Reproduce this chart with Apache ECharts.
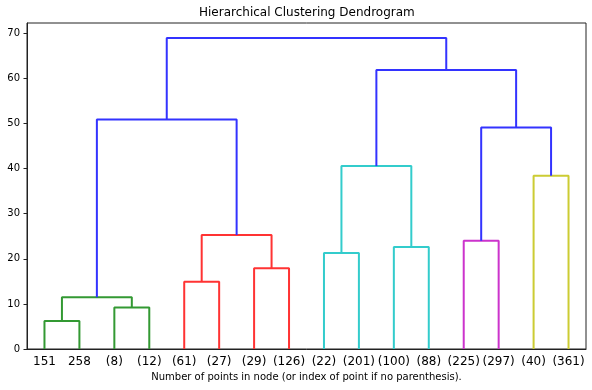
<!DOCTYPE html>
<html>
<head>
<meta charset="utf-8">
<script src="https://cdn.jsdelivr.net/npm/echarts@6/dist/echarts.min.js"></script>
<style>html,body{margin:0;padding:0;background:#fff}#c{width:592px;height:390px}</style>
</head>
<body>
<div id="c"></div>
<script>
// Leaf labels in dendrogram order
const leafLabels = ['151','258','(8)','(12)','(61)','(27)','(29)','(126)','(22)','(201)','(100)','(88)','(225)','(297)','(40)','(361)'];
// Merges: node ids 0..15 are leaves, merge k creates node 16+k
const mergeLeft  = [0, 2, 16, 4, 6, 19, 8, 10, 22, 12, 14, 18, 25, 24, 27];
const mergeRight = [1, 3, 17, 5, 7, 20, 9, 11, 23, 13, 15, 21, 26, 28, 29];
const mergeHeight = [6.2, 9.2, 11.5, 14.9, 17.9, 25.3, 21.3, 22.6, 40.6, 24.0, 38.4, 50.9, 49.1, 61.9, 69.0];
// cluster id of each merge (-1 = above colour threshold)
const mergeCluster = [0, 0, 0, 1, 1, 1, 2, 2, 2, 3, 4, -1, -1, -1, -1];
const yTicks = [0, 10, 20, 30, 40, 50, 60, 70];

const clusterColors = ['#339933', '#ff3333', '#33cccc', '#cc33cc', '#cccc33'];
const aboveColor = '#3333ff';

const nLeaves = leafLabels.length;
const nodeX = [], nodeH = [];
for (let i = 0; i < nLeaves; i++) { nodeX.push(i); nodeH.push(0); }
const series = [];
for (let k = 0; k < mergeLeft.length; k++) {
  const l = mergeLeft[k], r = mergeRight[k], h = mergeHeight[k];
  const xl = nodeX[l], xr = nodeX[r];
  nodeX.push((xl + xr) / 2); nodeH.push(h);
  const c = mergeCluster[k] < 0 ? aboveColor : clusterColors[mergeCluster[k]];
  series.push({
    type: 'line', xAxisIndex: 1, yAxisIndex: 0,
    data: [[xl, nodeH[l]], [xl, h], [xr, h], [xr, nodeH[r]]],
    showSymbol: false, symbol: 'none', silent: true,
    lineStyle: { color: c, width: 2 },
    z: mergeCluster[k] < 0 ? 3 : 2
  });
}

const chart = echarts.init(document.getElementById('c'), null, { renderer: 'canvas' });
chart.setOption({
  animation: false,
  backgroundColor: '#fff',
  title: {
    text: 'Hierarchical Clustering Dendrogram',
    left: 199, top: 7,
    padding: 0,
    textStyle: { fontFamily: 'DejaVu Sans', fontSize: 12, fontWeight: 'normal', color: '#000' }
  },
  grid: { left: 27, right: 6, top: 23, bottom: 41, show: true, borderColor: '#222', borderWidth: 1, backgroundColor: 'transparent' },
  xAxis: [
    {
      type: 'category', data: leafLabels, boundaryGap: true, position: 'bottom',
      axisLine: { show: true, lineStyle: { color: '#222', width: 1 } },
      axisTick: { show: false },
      axisLabel: { interval: 0, margin: 7, fontFamily: 'DejaVu Sans', fontSize: 12, color: '#000' },
      splitLine: { show: false },
      name: 'Number of points in node (or index of point if no parenthesis).',
      nameLocation: 'middle', nameGap: 23,
      nameTextStyle: { fontFamily: 'DejaVu Sans', fontSize: 10, color: '#000' }
    },
    {
      type: 'value', min: -0.5, max: nLeaves - 0.5, show: false, position: 'bottom'
    }
  ],
  yAxis: {
    type: 'value', min: 0, max: 72.3,
    axisLine: { show: true, onZero: false, lineStyle: { color: '#222', width: 1 } },
    axisTick: { show: true, length: 3.5, inside: false, customValues: yTicks, lineStyle: { color: '#222' } },
    axisLabel: { customValues: yTicks, margin: 7, fontFamily: 'DejaVu Sans', fontSize: 10, color: '#000' },
    splitLine: { show: false }
  },
  series: series
});
</script>
</body>
</html>
